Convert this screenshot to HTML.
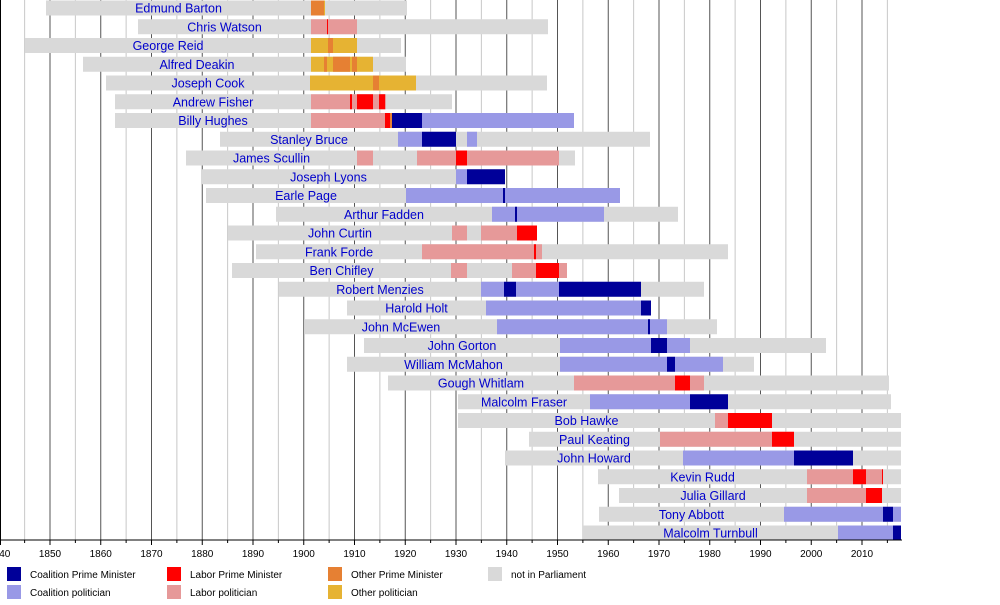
<!DOCTYPE html>
<html><head><meta charset="utf-8"><style>
body{margin:0;background:#fff;width:1000px;height:600px;overflow:hidden}
text{font-family:"Liberation Sans",sans-serif}
</style></head><body>
<svg id="s" width="1000" height="600" xmlns="http://www.w3.org/2000/svg"></svg>
<script>
const C={g:"#d9d9d9",CP:"#000099",cp:"#9999e6",LP:"#ff0000",lp:"#e69999",OP:"#e68033",op:"#e6b333"};
const rows=[
["Edmund Barton",46,407,[["OP",311,324],["op",324,325]]],
["Chris Watson",138,548,[["lp",311,357],["LP",327,328]]],
["George Reid",25,401,[["op",311,357],["OP",328,333]]],
["Alfred Deakin",83,406,[["op",311,373],["OP",324,327],["OP",333,350],["OP",352,357]]],
["Joseph Cook",106,547,[["op",310,416],["OP",373,379]]],
["Andrew Fisher",115,452,[["lp",311,386],["LP",350,352],["LP",357,373],["LP",379,385]]],
["Billy Hughes",115,574,[["lp",311,385],["LP",385,390],["OP",390,392],["CP",392,422],["cp",422,574]]],
["Stanley Bruce",220,650,[["cp",398,422],["CP",422,456],["cp",467,477]]],
["James Scullin",186,575,[["lp",357,373],["lp",417,456],["LP",456,467],["lp",467,559]]],
["Joseph Lyons",201,505,[["cp",456,467],["CP",467,505]]],
["Earle Page",206,620,[["cp",406,620],["CP",503,505]]],
["Arthur Fadden",276,678,[["cp",492,604],["CP",515,517]]],
["John Curtin",228,537,[["lp",452,467],["lp",481,517],["LP",517,537]]],
["Frank Forde",256,728,[["lp",422,542],["LP",534,536]]],
["Ben Chifley",232,567,[["lp",451,467],["lp",512,536],["LP",536,559],["lp",559,567]]],
["Robert Menzies",279,704,[["cp",481,504],["CP",504,516],["cp",516,559],["CP",559,641]]],
["Harold Holt",347,651,[["cp",486,641],["CP",641,651]]],
["John McEwen",305,717,[["cp",497,667],["CP",648,650]]],
["John Gorton",364,826,[["cp",560,651],["CP",651,667],["cp",667,690]]],
["William McMahon",347,754,[["cp",560,667],["CP",667,675],["cp",675,723]]],
["Gough Whitlam",388,889,[["lp",574,675],["LP",675,690],["lp",690,704]]],
["Malcolm Fraser",458,891,[["cp",590,690],["CP",690,728]]],
["Bob Hawke",458,901,[["lp",715,728],["LP",728,772]]],
["Paul Keating",529,901,[["lp",660,772],["LP",772,794]]],
["John Howard",505,901,[["cp",683,794],["CP",794,853]]],
["Kevin Rudd",598,901,[["lp",807,853],["LP",853,866],["lp",866,882],["LP",882,883]]],
["Julia Gillard",619,901,[["lp",807,866],["LP",866,882]]],
["Tony Abbott",599,901,[["cp",784,883],["CP",883,893],["cp",893,901]]],
["Malcolm Turnbull",583,901,[["cp",838,893],["CP",893,901]]]];
let h="";
const X=y=>50+(y-1850)*5.075;
for(let y=1840;y<=2015;y+=5){const x=X(y);h+=`<line x1="${x}" y1="0" x2="${x}" y2="540" stroke="${y%10?'#c8c8c8':'#555'}" stroke-width="1"/>`;}
h+=`<line x1="0.5" y1="0" x2="0.5" y2="545" stroke="#000"/>`;
rows.forEach((r,i)=>{const c=8+i*18.75,t=c-7.5;
h+=`<rect x="${r[1]}" y="${t}" width="${r[2]-r[1]}" height="15" fill="${C.g}"/>`;
r[3].forEach(s=>{h+=`<rect x="${s[1]}" y="${t}" width="${s[2]-s[1]}" height="15" fill="${C[s[0]]}"/>`;});
const fs=Math.min(...r[3].map(s=>s[1]));
h+=`<text x="${(r[1]+fs)/2}" y="${c+4.5}" font-size="12.5" fill="#0000cc" text-anchor="middle">${r[0]}</text>`;});
h+=`<line x1="0" y1="540" x2="902" y2="540" stroke="#000"/>`;
for(let y=1840;y<=2015;y+=5){const x=X(y);h+=`<line x1="${x}" y1="540" x2="${x}" y2="${y%10?543:545}" stroke="#000"/>`;
if(y%10==0)h+=`<text x="${x}" y="557" font-size="10" text-anchor="middle">${y==1840?'1840':y}</text>`;}
const L=[[7,567,"CP","Coalition Prime Minister"],[7,585,"cp","Coalition politician"],[167,567,"LP","Labor Prime Minister"],[167,585,"lp","Labor politician"],[328,567,"OP","Other Prime Minister"],[328,585,"op","Other politician"],[488,567,"g","not in Parliament"]];
L.forEach(l=>{h+=`<rect x="${l[0]}" y="${l[1]}" width="14" height="14" fill="${C[l[2]]}"/><text x="${l[0]+23}" y="${l[1]+11}" font-size="10">${l[3]}</text>`;});
document.getElementById("s").innerHTML=h;
</script>
</body></html>
